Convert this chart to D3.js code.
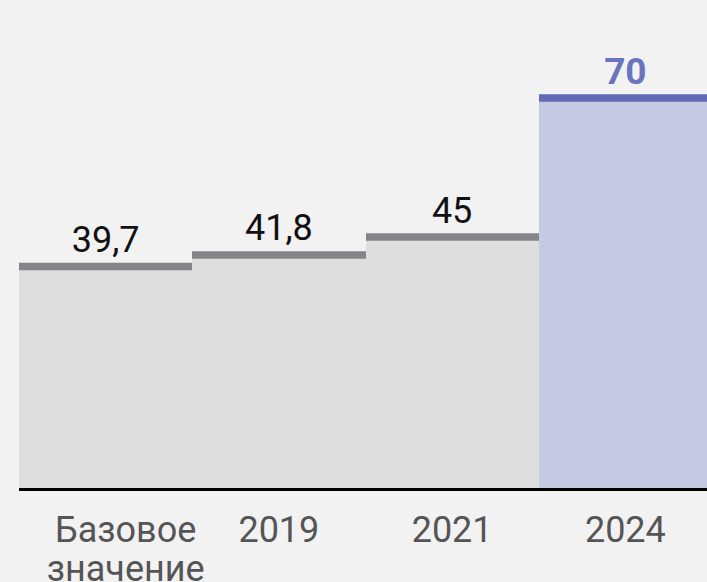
<!DOCTYPE html>
<html lang="ru">
<head>
    <meta charset="UTF-8" />
    <title>Показатель по годам</title>
    <script src="https://d3js.org/d3.v7.min.js"></script>
    <style>
        html, body {
            margin: 0;
            padding: 0;
            background: #f2f2f2;
        }
        svg text {
            font-family: Roboto, "Noto Sans", sans-serif;
        }
    </style>
</head>
<body>
    <svg id="chart" width="707" height="582"></svg>
<script>
    // Данные
    const categories = ["Базовое значение", "2019", "2021", "2024"];
    const values = [39.7, 41.8, 45, 70];
    const highlighted = [false, false, false, true];

    const width = 707;
    const baseY = 488;

    const svg = d3.select("#chart");

    // Шкалы
    const x = d3.scaleBand()
        .domain(categories)
        .range([19, 712])
        .padding(0);

    const y = d3.scaleLinear()
        .domain([0, 70])
        .range([baseY - 0.5, 98]);

    const fmt = d3.formatLocale({ decimal: ",", thousands: " ", grouping: [3], currency: ["", ""] }).format("~f");

    const data = categories.map((c, i) => ({ cat: c, value: values[i], hi: highlighted[i] }));

    // Заливка столбцов
    svg.selectAll(".bar")
        .data(data)
        .join("rect")
        .attr("class", "bar")
        .attr("x", d => Math.round(x(d.cat)))
        .attr("width", d => Math.round(x(d.cat) + x.bandwidth()) - Math.round(x(d.cat)))
        .attr("y", d => y(d.value))
        .attr("height", d => baseY - y(d.value))
        .attr("fill", d => d.hi ? "#c5c9e4" : "#dedede");

    // Верхние линии
    svg.selectAll(".cap")
        .data(data)
        .join("line")
        .attr("class", "cap")
        .attr("x1", d => Math.round(x(d.cat)))
        .attr("x2", d => Math.round(x(d.cat) + x.bandwidth()))
        .attr("y1", d => y(d.value))
        .attr("y2", d => y(d.value))
        .attr("stroke", d => d.hi ? "#5f6bb3" : "#858589")
        .attr("stroke-width", 7.5);

    // Подписи значений
    svg.selectAll(".val")
        .data(data)
        .join("text")
        .attr("class", "val")
        .attr("x", d => x(d.cat) + x.bandwidth() / 2)
        .attr("y", d => y(d.value) - 14.5)
        .attr("text-anchor", "middle")
        .attr("font-size", d => d.hi ? 37 : 36)
        .attr("font-weight", d => d.hi ? 700 : 400)
        .attr("fill", d => d.hi ? "#6b75bf" : "#111")
        .text(d => fmt(d.value));

    // Ось X
    const xAxis = svg.append("g")
        .attr("transform", `translate(0,${baseY})`)
        .call(d3.axisBottom(x).tickSize(0).tickPadding(0));

    xAxis.select(".domain")
        .attr("d", `M19,1.5H${width}`)
        .attr("stroke", "#000")
        .attr("stroke-width", 3);

    xAxis.selectAll(".tick text")
        .attr("font-size", 36)
        .attr("font-family", "Roboto, sans-serif")
        .attr("fill", "#555")
        .attr("dy", null)
        .attr("y", 53.5)
        .attr("dx", (d, i) => i === 0 ? 20 : 0)
        .each(function (d) {
            const t = d3.select(this);
            const words = d.split(" ");
            t.text(null);
            words.forEach((w, i) => {
                t.append("tspan")
                    .attr("x", 0)
                    .attr("dx", t.attr("dx"))
                    .attr("dy", i === 0 ? 0 : "1.1em")
                    .text(w);
            });
        });
</script>
</body>
</html>
